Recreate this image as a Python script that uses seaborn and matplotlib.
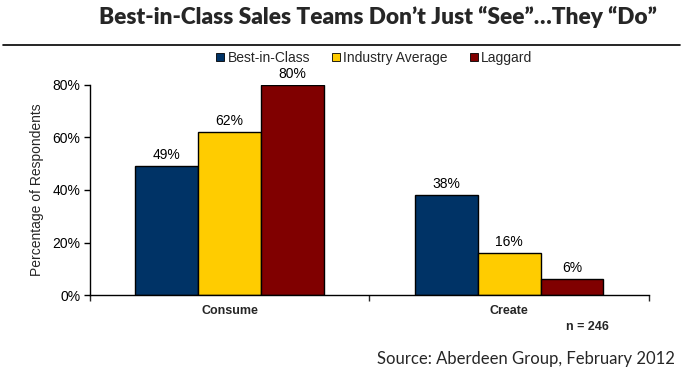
import pandas as pd
import matplotlib
matplotlib.use("Agg")
import matplotlib.pyplot as plt
import seaborn as sns
from matplotlib.lines import Line2D
from matplotlib.ticker import FuncFormatter, FixedLocator

# Datos
categorias = ["Consume", "Create"]
series = ["Best-in-Class", "Industry Average", "Laggard"]
best_in_class = [49, 38]
industry_average = [62, 16]
laggard = [80, 6]
colores = ["#003366", "#FFCC00", "#800000"]

df = pd.DataFrame({
    "Categoria": categorias * 3,
    "Serie": [s for s in series for _ in categorias],
    "Valor": best_in_class + industry_average + laggard,
})

sns.set_style("white")
plt.rcParams["font.family"] = ["Liberation Sans", "DejaVu Sans"]

fig = plt.figure(figsize=(6.83, 3.76), dpi=100)
ax = fig.add_axes([0.1318, 0.2154, 0.8182, 0.5586])

sns.barplot(data=df, x="Categoria", y="Valor", hue="Serie", palette=colores, saturation=1,
            width=0.675, edgecolor="black", linewidth=1, ax=ax, legend=False)

for cont in ax.containers:
    ax.bar_label(cont, fmt="%d%%", padding=3, fontsize=10, color="black")

ax.set_xlim(-0.5, 1.5)
ax.set_ylim(0, 80)
ax.set_yticks([0, 20, 40, 60, 80])
ax.yaxis.set_major_formatter(FuncFormatter(lambda v, p: f"{int(v)}%"))
ax.tick_params(axis="y", left=True, length=4, width=1, labelsize=10, pad=3, colors="black")
ax.tick_params(axis="x", which="major", length=0, labelsize=9, pad=7)
ax.xaxis.set_minor_locator(FixedLocator([-0.5, 0.5, 1.5]))
ax.tick_params(axis="x", which="minor", bottom=True, length=4, width=1)
for lbl in ax.get_xticklabels():
    lbl.set_fontweight("bold")
ax.set_xlabel("")
ax.set_ylabel("Percentage of Respondents", fontsize=10, labelpad=6)

for lado in ["top", "right"]:
    ax.spines[lado].set_visible(False)
for lado in ["left", "bottom"]:
    ax.spines[lado].set_color("black")
    ax.spines[lado].set_linewidth(1)

# Leyenda
handles = [Line2D([], [], marker="s", linestyle="", markersize=6, markerfacecolor=c,
                  markeredgecolor="black", markeredgewidth=0.6) for c in colores]
fig.legend(handles, series, loc="center", bbox_to_anchor=(373 / 683, 1 - 58 / 376), ncol=3,
           frameon=False, fontsize=10, handletextpad=0.1, columnspacing=1.4, handlelength=0.9)

# Título y línea
fig.text(378 / 683, 1 - 17 / 376, "Best-in-Class Sales Teams Don’t Just “See”…They “Do”",
         ha="center", va="center", fontsize=16.3, fontweight="heavy", family=["Lato", "DejaVu Sans"])
fig.add_artist(Line2D([3 / 683, 680 / 683], [1 - 44.5 / 376] * 2, color="black", linewidth=1.2))

fig.text(587 / 683, 1 - 327 / 376, "n = 246", ha="center", va="center", fontsize=9, fontweight="bold")
fig.text(675 / 683, 1 - 359 / 376, "Source: Aberdeen Group, February 2012", ha="right", va="center",
         fontsize=12, family=["Lato", "DejaVu Sans"])

fig.savefig("out.png", dpi=100)
